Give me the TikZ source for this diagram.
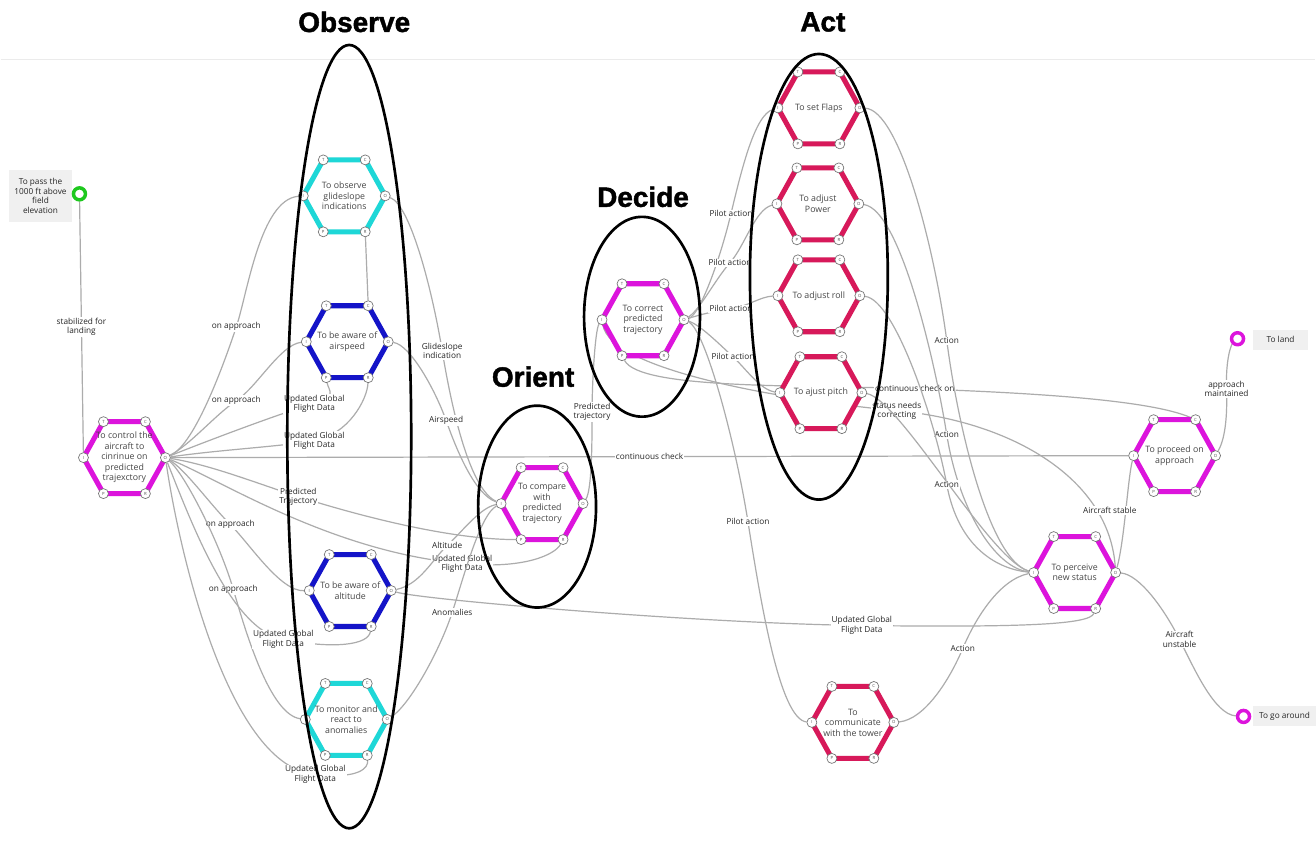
\documentclass[tikz,border=0pt]{standalone}
\usepackage{fontspec}
\setmainfont{Open Sans}
\newfontfamily\titlefont[BoldFeatures={FakeBold=1.5}]{Liberation Sans}
\pgfdeclarelayer{bgfill}
\pgfdeclarelayer{edges}
\pgfsetlayers{bgfill,edges,main}
\definecolor{mag}{RGB}{220,20,220}
\definecolor{cya}{RGB}{30,215,215}
\definecolor{blu}{RGB}{20,20,200}
\definecolor{crim}{RGB}{215,25,90}
\definecolor{gcol}{RGB}{30,200,30}
\definecolor{conncol}{RGB}{172,172,172}
\tikzset{
  hexline/.style={draw=#1, line width=3.8pt, fill=white, line join=miter},
  hextext/.style={font=\fontsize{6.6}{7.9}\selectfont, text=black!72, align=center, inner sep=0pt},
  port/.style={circle, draw=black!55, fill=white, line width=0.5pt, minimum size=7.5pt, inner sep=0pt, font=\fontsize{3.2}{3.2}\selectfont, text=black!70},
  conn/.style={draw=conncol, line width=0.9pt},
  lbl/.style={fill=white, font=\fontsize{6.2}{7}\selectfont, align=center, inner sep=0.8pt, text=black!85},
  phase/.style={draw=black, line width=2pt},
  ttl/.style={font=\titlefont\bfseries\fontsize{21}{24}\selectfont},
  ring/.style={circle, draw=#1, line width=2.6pt, fill=white, minimum size=9pt, inner sep=0pt},
  entrybox/.style={fill=black!6, font=\fontsize{6.2}{7.2}\selectfont, align=center, inner sep=2pt, text=black!85},
}
\newcommand\fhex[5]{%
  \begin{scope}[shift={(#2,#3)}]
    \filldraw[hexline=#4] (-21,-36) -- (21,-36) -- (41,0) -- (21,36) -- (-21,36) -- (-41,0) -- cycle;
    \node[hextext] (#1) at (0,0) {#5};
    \node[port] (#1-T) at (-21,-36) {T};
    \node[port] (#1-C) at (21,-36) {C};
    \node[port] (#1-O) at (41,0) {O};
    \node[port] (#1-R) at (21,36) {R};
    \node[port] (#1-P) at (-21,36) {P};
    \node[port] (#1-I) at (-41,0) {I};
  \end{scope}}
\begin{document}
\begin{tikzpicture}[x=0.75pt,y=-0.75pt]
\begin{pgfonlayer}{bgfill}
\fill[white] (0,0) rectangle (1316,844);
\draw[black!8, line width=0.8pt] (0,60) -- (1316,60);
\end{pgfonlayer}
\useasboundingbox (0,0) rectangle (1316,844);

% functions
\fhex{ctrl}{124}{458}{mag}{To control the\\aircraft to\\cinrinue on\\predicted\\trajexctory}
\fhex{glide}{344}{196}{cya}{To observe\\glideslope\\indications}
\fhex{air}{347}{342}{blu}{To be aware of\\airspeed}
\fhex{alt}{350}{591}{blu}{To be aware of\\altitude}
\fhex{mon}{346}{720}{cya}{To monitor and\\react to\\anomalies}
\fhex{cmp}{542}{504}{mag}{To compare\\with\\predicted\\trajectory}
\fhex{cor}{643}{320}{mag}{To correct\\predicted\\trajectory}
\fhex{flaps}{819}{108}{crim}{To set Flaps}
\fhex{power}{818}{204}{crim}{To adjust\\Power}
\fhex{roll}{819}{296}{crim}{To adjust roll}
\fhex{pitch}{821}{393}{crim}{To ajust pitch}
\fhex{proc}{1175}{456}{mag}{To proceed on\\approach}
\fhex{perc}{1075}{573}{mag}{To perceive\\new status}
\fhex{com}{853}{723}{crim}{To\\communicate\\with the tower}

% entry / exit points
\node[entrybox, minimum width=48pt, minimum height=39pt] (startbox) at (40,196) {To pass the\\1000 ft above\\field\\elevation};
\node[ring=gcol] (start) at (79,194) {};
\node[entrybox, minimum width=41pt, minimum height=15pt] (landbox) at (1281,340) {To land};
\node[ring=mag] (land) at (1238,339) {};
\node[entrybox, minimum width=47pt, minimum height=15pt] (gabox) at (1285,717) {To go around};
\node[ring=mag] (goaround) at (1244,717) {};

\begin{pgfonlayer}{edges}
\draw[conn] (start) -- node[lbl]{stabilized for\\landing} (ctrl-I);
% from control
\draw[conn] (ctrl-O) .. controls (195,445) and (225,360) .. (236,327) node[lbl]{on approach} .. controls (247,294) and (260,200) .. (glide-I);
\draw[conn] (ctrl-O) .. controls (190,445) and (215,415) .. (236,401) node[lbl]{on approach} .. controls (257,387) and (280,345) .. (air-I);
\draw[conn] (ctrl-O) .. controls (185,470) and (210,505) .. (230,525) node[lbl]{on approach} .. controls (250,545) and (280,592) .. (alt-I);
\draw[conn] (ctrl-O) .. controls (185,475) and (220,545) .. (233,590) node[lbl]{on approach} .. controls (246,635) and (270,715) .. (mon-I);
\draw[conn] (ctrl-O) .. controls (210,440) and (290,410) .. (314,404) node[lbl]{Updated Global\\Flight Data} .. controls (338,398) and (328,390) .. (air-P);
\draw[conn] (ctrl-O) .. controls (220,450) and (280,447) .. (314,441) node[lbl]{Updated Global\\Flight Data} .. controls (348,435) and (367,400) .. (air-R);
\draw[conn] (ctrl-O) .. controls (190,520) and (230,630) .. (283,640) node[lbl]{Updated Global\\Flight Data} .. controls (336,650) and (368,645) .. (alt-R);
\draw[conn] (ctrl-O) .. controls (180,560) and (230,768) .. (315,775) node[lbl]{Updated Global\\Flight Data} .. controls (360,780) and (368,768) .. (mon-R);
\draw[conn] (ctrl-O) .. controls (210,465) and (260,485) .. (298,497) node[lbl]{Predicted\\Trajectory} .. controls (336,509) and (440,540) .. (cmp-P);
\draw[conn] (ctrl-O) .. controls (220,480) and (330,552) .. (462,564) node[lbl]{Updated Global\\Flight Data} .. controls (524,570) and (555,555) .. (cmp-R);
\draw[conn] (ctrl-O) -- node[lbl, pos=0.5]{continuous check} (proc-I);
% observe -> orient
\draw[conn] (glide-O) .. controls (410,205) and (432,290) .. (442,351) node[lbl]{Glideslope\\indication} .. controls (452,412) and (470,490) .. (cmp-I);
\draw[conn] (air-O) .. controls (410,345) and (435,390) .. (446,421) node[lbl]{Airspeed} .. controls (457,452) and (475,495) .. (cmp-I);
\draw[conn] (alt-O) .. controls (420,585) and (432,560) .. (447,546) node[lbl]{Altitude} .. controls (462,532) and (480,508) .. (cmp-I);
\draw[conn] (mon-O) .. controls (410,705) and (440,650) .. (452,613) node[lbl]{Anomalies} .. controls (464,576) and (480,515) .. (cmp-I);
\draw[conn] (glide-R) -- (air-C);
% orient -> decide
\draw[conn] (cmp-O) .. controls (592,490) and (592,440) .. (592,412) node[lbl]{Predicted\\trajectory} .. controls (592,384) and (595,330) .. (cor-I);
% decide -> act
\draw[conn] (cor-O) .. controls (700,315) and (720,260) .. (731,214) node[lbl]{Pilot action} .. controls (742,168) and (755,115) .. (flaps-I);
\draw[conn] (cor-O) .. controls (700,310) and (715,280) .. (730,263) node[lbl]{Pilot action} .. controls (745,246) and (755,210) .. (power-I);
\draw[conn] (cor-O) .. controls (700,315) and (715,311) .. (731,309) node[lbl]{Pilot action} .. controls (747,307) and (760,297) .. (roll-I);
\draw[conn] (cor-O) .. controls (700,325) and (720,345) .. (733,357) node[lbl]{Pilot action} .. controls (746,369) and (760,390) .. (pitch-I);
\draw[conn] (cor-O) .. controls (705,330) and (735,440) .. (748,522) node[lbl]{Pilot action} .. controls (761,604) and (780,720) .. (com-I);
\draw[conn] (cor-P) .. controls (640,390) and (800,385) .. (915,389) node[lbl]{continuous check on} .. controls (1030,393) and (1150,400) .. (proc-C);
\draw[conn] (cor-I) .. controls (610,370) and (780,400) .. (897,411) node[lbl]{status needs\\correcting} .. controls (1014,422) and (1110,480) .. (perc-O);
% act -> perceive
\draw[conn] (flaps-O) .. controls (900,110) and (935,250) .. (947,341) node[lbl]{Action} .. controls (959,432) and (990,560) .. (perc-I);
\draw[conn] (power-O) .. controls (900,210) and (935,360) .. (947,435) node[lbl]{Action} .. controls (959,510) and (995,568) .. (perc-I);
\draw[conn] (roll-O) .. controls (895,300) and (935,420) .. (947,485) node[lbl]{Action} .. controls (959,550) and (1000,570) .. (perc-I);
\draw[conn] (pitch-O) .. controls (900,400) and (990,560) .. (perc-I);
\draw[conn] (com-O) .. controls (925,720) and (950,680) .. (963,649) node[lbl]{Action} .. controls (976,618) and (1000,580) .. (perc-I);
% perceive outputs
\draw[conn] (perc-O) .. controls (1125,540) and (1128,480) .. node[lbl, pos=0.5, xshift=-12pt]{Aircraft stable} (proc-I);
\draw[conn] (perc-O) .. controls (1140,575) and (1165,610) .. (1180,640) node[lbl]{Aircraft\\unstable} .. controls (1195,670) and (1215,715) .. (goaround);
\draw[conn] (alt-O) .. controls (420,600) and (700,624) .. (862,626) node[lbl]{Updated Global\\Flight Data} .. controls (1024,628) and (1090,625) .. (perc-R);
\draw[conn] (proc-O) .. controls (1225,440) and (1228,420) .. (1227,389) node[lbl]{approach\\maintained} .. controls (1226,358) and (1232,345) .. (land);
\end{pgfonlayer}

% OODA phases
\draw[phase] (349,437) ellipse [x radius=46.5pt, y radius=294pt];
\draw[phase] (537,507) ellipse [x radius=44.25pt, y radius=75.75pt];
\draw[phase] (642,317) ellipse [x radius=43.5pt, y radius=75pt];
\draw[phase] (819,277) ellipse [x radius=51.75pt, y radius=167.25pt];
\node[ttl] (tObserve) at (354,22) {Observe};
\node[ttl] (tOrient) at (533,377) {Orient};
\node[ttl] (tDecide) at (643,197) {Decide};
\node[ttl] (tAct) at (823,22) {Act};
\end{tikzpicture}
\end{document}
